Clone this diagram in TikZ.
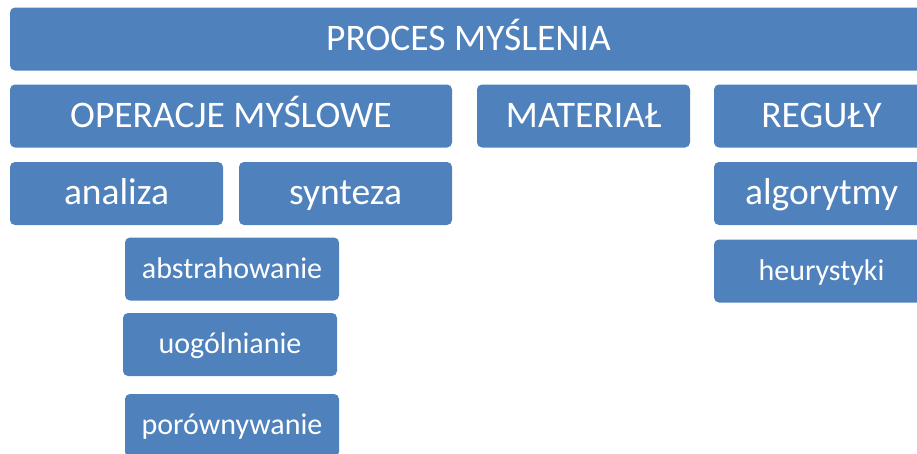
\documentclass[tikz,border=0pt]{standalone}
\usepackage{fontspec}
\setmainfont{Carlito}
\definecolor{boxblue}{HTML}{4F81BD}
\begin{document}
\begin{tikzpicture}[x=1pt,y=-1pt,
	box/.style={fill=boxblue, rounded corners=5pt, text=white, inner sep=0pt,
		text height=30pt, text depth=7.5pt,
		minimum width=213pt, minimum height=63pt, font=\fontsize{37.5}{42}\selectfont},
	smallbox/.style={box, text height=24pt, text depth=6pt, font=\fontsize{30}{34}\selectfont}]
	  \useasboundingbox (0,0) rectangle (917,453);
	  \clip (0,0) rectangle (917,453);

	  \node[box, minimum width=917pt] (proces) at (468.5,39) {PROCES MYŚLENIA};

	  \node[box, minimum width=442pt] (operacje) at (231,116) {OPERACJE MYŚLOWE};
	  \node[box] (material) at (583.5,116) {MATERIAŁ};
	  \node[box, minimum width=215pt] (reguly) at (821.5,116) {REGUŁY};

	  \node[box] (analiza) at (116.5,193.5) {analiza};
	  \node[box] (synteza) at (345.5,193.5) {synteza};
	  \node[box, minimum width=215pt] (algorytmy) at (821.5,193.5) {algorytmy};

	  \node[smallbox, minimum width=214pt] (abstrahowanie) at (232,269) {abstrahowanie};
	  \node[smallbox, minimum width=214pt] (uogolnianie) at (230,344.5) {uogólnianie};
	  \node[smallbox, minimum width=214pt] (porownywanie) at (232,425.5) {porównywanie};
	  \node[smallbox, minimum width=215pt] (heurystyki) at (821.5,271) {heurystyki};
	\end{tikzpicture}
\end{document}
